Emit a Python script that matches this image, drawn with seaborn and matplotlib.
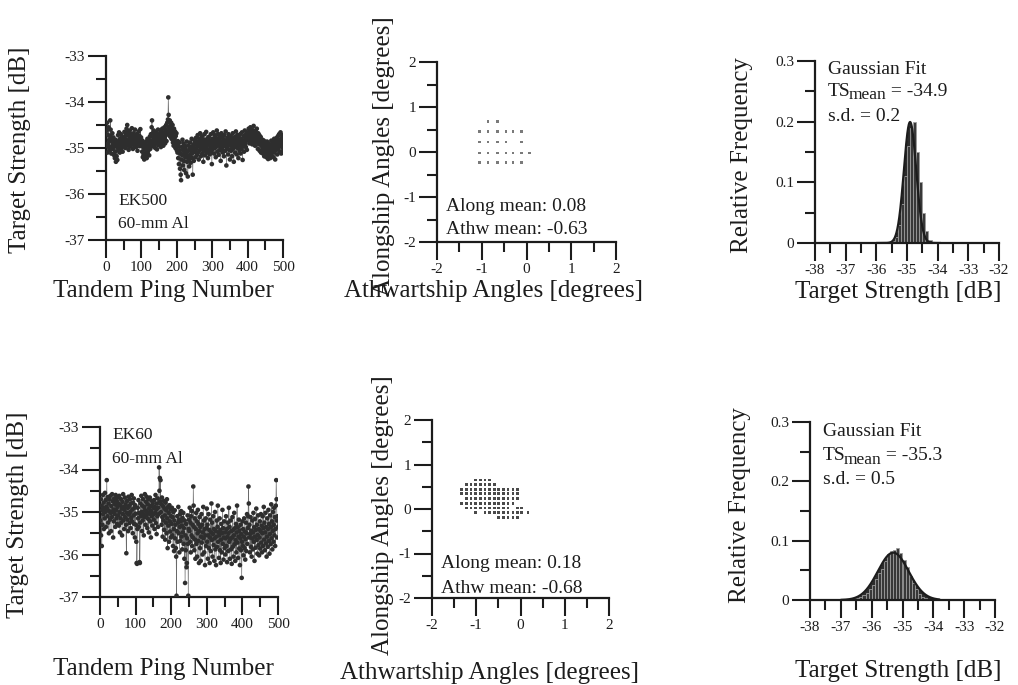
import numpy as np
import pandas as pd
import matplotlib
matplotlib.use("Agg")
import matplotlib.pyplot as plt
from matplotlib.ticker import MultipleLocator, FuncFormatter
import seaborn as sns

# ---------------------------------------------------------------- data
# Tandem target strength per ping [dB], 60-mm aluminium sphere
ek500_ts = [
    -34.95, -34.62, -34.45, -35.10, -34.71, -34.90, -34.55, -34.98, -34.83, -35.05,
    -34.74, -34.40, -34.60, -34.97, -35.12, -34.79, -34.86, -34.68, -35.02, -34.91,
    -34.77, -35.15, -34.84, -34.96, -35.22, -35.08, -34.82, -35.30, -34.93, -35.18,
    -34.87, -35.26, -34.99, -34.72, -35.05, -34.85, -34.66, -34.94, -35.10, -34.80,
    -34.90, -34.70, -35.02, -34.86, -34.95, -34.75, -35.08, -34.83, -34.97, -34.78,
    -34.88, -34.65, -34.92, -34.80, -35.00, -34.72, -34.86, -34.58, -34.95, -34.50,
    -34.90, -34.66, -34.83, -35.04, -34.74, -34.89, -34.62, -34.97, -34.80, -34.70,
    -34.93, -34.85, -34.57, -34.88, -34.76, -35.02, -34.82, -34.68, -34.94, -34.79,
    -34.87, -34.60, -34.91, -34.75, -34.98, -34.84, -34.70, -34.86, -35.06, -34.78,
    -34.92, -34.64, -34.85, -34.73, -34.96, -34.81, -34.59, -34.90, -34.77, -34.88,
    -34.95, -35.08, -34.84, -35.20, -34.98, -35.15, -34.90, -35.25, -35.02, -34.88,
    -35.18, -34.93, -35.10, -34.86, -35.22, -35.00, -34.80, -35.12, -34.95, -35.05,
    -34.82, -35.16, -34.90, -34.75, -35.02, -34.88, -34.70, -34.97, -34.55, -34.40,
    -34.85, -34.68, -34.92, -34.78, -34.62, -34.95, -34.83, -34.72, -35.00, -34.87,
    -34.66, -34.90, -34.79, -35.03, -34.74, -34.88, -34.60, -34.94, -34.81, -34.70,
    -34.92, -34.76, -34.85, -34.62, -34.98, -34.80, -34.70, -34.90, -34.58, -34.84,
    -34.73, -34.95, -34.66, -34.82, -34.55, -34.78, -34.90, -34.60, -34.72, -34.50,
    -34.85, -34.65, -34.45, -34.70, -34.38, -33.90, -34.28, -34.55, -34.62, -34.40,
    -34.75, -34.52, -34.68, -34.45, -34.80, -34.60, -34.72, -34.50, -34.88, -34.66,
    -34.95, -34.58, -34.78, -34.85, -34.64, -35.00, -34.74, -34.90, -34.68, -35.05,
    -34.92, -35.10, -34.85, -35.22, -34.96, -35.35, -35.05, -34.88, -35.45, -35.12,
    -35.58, -35.70, -35.25, -34.98, -35.15, -34.82, -35.38, -35.05, -34.90, -35.28,
    -35.48, -35.10, -34.95, -35.20, -35.02, -35.55, -35.15, -34.86, -35.30, -35.08,
    -35.62, -35.18, -34.95, -35.25, -35.40, -35.04, -34.88, -35.15, -35.32, -34.98,
    -35.12, -34.80, -35.22, -35.05, -35.58, -35.10, -34.92, -35.28, -35.00, -34.84,
    -35.08, -34.90, -35.20, -34.78, -35.02, -34.86, -35.15, -34.95, -34.72, -35.10,
    -34.88, -35.25, -34.96, -34.80, -35.05, -34.68, -34.92, -35.18, -34.84, -35.00,
    -34.75, -35.12, -34.90, -34.98, -35.30, -34.82, -35.06, -34.70, -34.94, -35.16,
    -34.86, -35.02, -34.65, -34.96, -35.10, -34.80, -34.92, -35.22, -34.88, -34.76,
    -35.04, -34.90, -35.14, -34.84, -34.98, -34.70, -35.08, -34.93, -35.35, -34.86,
    -34.80, -35.02, -34.66, -34.94, -35.12, -34.85, -34.72, -35.00, -34.88, -35.20,
    -34.78, -34.96, -34.62, -34.90, -35.08, -34.84, -34.70, -35.15, -34.92, -34.80,
    -35.05, -34.74, -34.98, -35.28, -34.86, -34.68, -35.02, -34.90, -34.76, -35.10,
    -34.94, -34.82, -35.18, -34.72, -34.96, -34.88, -35.06, -34.64, -34.92, -35.38,
    -34.84, -35.00, -34.78, -34.95, -35.14, -34.70, -34.88, -35.04, -34.82, -35.25,
    -34.90, -34.74, -35.06, -34.86, -34.96, -35.18, -34.80, -34.68, -35.02, -34.92,
    -35.30, -34.84, -34.98, -34.76, -35.10, -34.88, -34.64, -34.95, -35.14, -34.82,
    -34.72, -35.00, -34.90, -35.22, -34.86, -34.78, -35.06, -34.94, -34.70, -35.12,
    -34.88, -34.80, -35.02, -34.66, -34.92, -35.26, -34.84, -34.96, -34.74, -35.08,
    -34.86, -34.62, -34.90, -34.78, -34.98, -34.70, -34.84, -35.04, -34.68, -34.80,
    -34.66, -34.82, -34.58, -34.76, -34.90, -34.62, -34.72, -34.55, -34.84, -34.68,
    -34.78, -34.60, -34.92, -34.74, -34.64, -34.86, -34.52, -34.70, -34.80, -34.66,
    -34.95, -34.74, -34.62, -34.88, -34.70, -34.58, -34.82, -34.76, -35.02, -34.68,
    -34.84, -34.92, -34.72, -35.06, -34.80, -34.90, -34.76, -35.10, -34.86, -34.96,
    -35.04, -34.82, -35.12, -34.90, -35.00, -34.84, -35.18, -34.94, -35.06, -34.88,
    -35.10, -34.92, -35.20, -35.02, -34.86, -35.14, -34.96, -35.24, -35.04, -34.90,
    -35.16, -34.98, -35.08, -35.22, -34.94, -35.12, -34.84, -35.02, -35.18, -34.96,
    -35.06, -34.88, -35.20, -35.00, -34.80, -35.10, -34.92, -35.25, -34.98, -34.84,
    -35.04, -34.78, -34.95, -35.14, -34.88, -34.74, -35.02, -34.85, -34.70, -34.96,
    -35.08, -34.82, -34.66, -34.92, -35.12, -34.80, -34.72, -34.98, -34.86, -35.06,
]

ek60_ts = [
    -35.20, -34.70, -35.55, -34.85, -35.80, -34.95, -35.30, -34.60, -35.05, -34.78,
    -35.40, -34.90, -35.15, -34.55, -35.00, -34.72, -35.35, -34.88, -34.25, -34.92,
    -35.10, -34.65, -35.25, -34.80, -35.50, -34.98, -34.70, -35.18, -34.62, -35.02,
    -35.45, -34.86, -35.12, -34.58, -35.00, -34.75, -35.60, -34.94, -35.22, -34.68,
    -35.05, -34.82, -35.35, -34.60, -34.96, -35.15, -34.74, -35.28, -34.88, -34.66,
    -35.08, -34.80, -35.32, -34.62, -35.00, -35.48, -34.84, -35.15, -34.70, -35.25,
    -34.92, -35.55, -34.76, -35.05, -34.58, -35.20, -34.88, -35.40, -34.95, -34.66,
    -35.12, -34.82, -35.30, -35.97, -35.02, -34.74, -35.18, -34.90, -35.45, -34.64,
    -35.06, -34.86, -35.26, -34.70, -35.00, -35.38, -34.80, -35.14, -34.60, -35.22,
    -34.94, -35.50, -34.78, -35.08, -34.68, -35.28, -34.90, -35.60, -34.84, -35.04,
    -35.30, -35.70, -36.20, -36.22, -35.40, -34.90, -35.15, -34.72, -35.35, -35.02,
    -36.18, -36.20, -35.25, -34.80, -35.10, -34.62, -35.00, -35.45, -34.85, -35.20,
    -34.70, -35.05, -35.55, -34.88, -35.12, -34.58, -34.96, -35.30, -34.76, -35.08,
    -34.64, -35.00, -35.38, -34.82, -35.16, -34.70, -35.48, -34.92, -35.04, -34.66,
    -35.22, -34.86, -35.60, -34.98, -35.10, -34.74, -35.32, -34.80, -35.06, -34.90,
    -35.18, -34.72, -35.40, -34.88, -35.02, -34.60, -35.26, -34.94, -35.52, -34.80,
    -35.10, -34.68, -35.35, -34.90, -35.05, -33.95, -34.50, -34.20, -34.75, -34.25,
    -35.00, -34.82, -35.30, -34.66, -35.12, -35.58, -34.86, -35.20, -34.74, -35.42,
    -34.92, -35.08, -35.65, -34.78, -35.25, -34.96, -35.50, -34.70, -35.15, -35.85,
    -34.88, -35.32, -35.02, -35.70, -34.84, -35.22, -35.46, -34.94, -35.60, -35.10,
    -35.28, -34.90, -35.55, -35.12, -35.80, -35.00, -35.40, -35.92, -35.20, -34.96,
    -35.62, -35.30, -35.85, -36.05, -36.97, -35.45, -35.10, -35.70, -35.25, -34.88,
    -35.50, -35.18, -35.95, -35.35, -35.05, -35.68, -35.22, -34.98, -35.58, -35.32,
    -35.88, -35.14, -35.48, -35.02, -35.75, -35.38, -36.10, -35.20, -36.67, -35.55,
    -35.90, -35.28, -36.30, -36.20, -35.62, -35.08, -35.75, -36.97, -35.40, -35.18,
    -35.45, -34.90, -35.70, -35.25, -35.95, -35.10, -35.55, -34.98, -35.80, -35.30,
    -35.60, -34.40, -34.85, -35.35, -35.90, -35.15, -35.65, -36.10, -35.40, -35.02,
    -35.75, -35.22, -36.05, -35.50, -34.95, -35.68, -35.28, -36.20, -35.45, -35.12,
    -35.85, -35.35, -36.15, -35.58, -35.05, -35.72, -35.30, -36.00, -35.48, -34.88,
    -35.62, -35.20, -35.95, -35.40, -36.25, -35.55, -35.15, -35.80, -35.38, -34.92,
    -35.70, -35.30, -36.10, -35.55, -35.05, -35.85, -35.42, -36.20, -35.60, -35.18,
    -35.92, -35.48, -34.80, -35.66, -35.25, -36.05, -35.52, -35.10, -35.78, -35.40,
    -36.15, -35.62, -35.00, -35.88, -35.45, -36.25, -35.58, -35.20, -35.82, -35.35,
    -34.85, -35.70, -35.48, -36.08, -35.55, -35.15, -35.90, -35.42, -36.20, -35.65,
    -35.28, -35.95, -35.50, -34.95, -35.75, -35.38, -36.12, -35.60, -35.22, -35.85,
    -35.48, -36.00, -35.62, -35.10, -35.80, -35.40, -36.18, -35.58, -35.25, -35.92,
    -35.50, -34.90, -35.70, -35.35, -36.10, -35.64, -35.20, -35.88, -35.45, -36.22,
    -35.60, -35.12, -35.82, -35.42, -36.05, -35.55, -35.02, -35.76, -35.38, -36.15,
    -35.66, -35.28, -35.95, -35.48, -34.85, -35.72, -35.36, -36.08, -35.58, -35.18,
    -35.86, -35.44, -36.25, -35.62, -35.30, -35.90, -35.52, -36.55, -35.70, -35.22,
    -35.80, -35.40, -36.02, -35.58, -35.15, -35.85, -35.46, -36.12, -35.64, -35.25,
    -35.92, -35.50, -35.05, -35.75, -35.38, -35.10, -34.40, -34.80, -35.60, -35.30,
    -35.95, -35.52, -35.12, -35.82, -35.44, -36.05, -35.62, -35.20, -35.88, -35.48,
    -35.02, -35.70, -35.36, -36.15, -35.58, -35.16, -35.84, -35.42, -34.92, -35.66,
    -35.30, -35.98, -35.54, -35.08, -35.78, -35.40, -36.02, -35.60, -35.22, -35.86,
    -35.45, -35.05, -35.72, -35.32, -35.95, -35.50, -35.10, -35.80, -35.38, -34.88,
    -35.65, -35.25, -35.90, -35.48, -35.02, -35.74, -35.35, -36.05, -35.58, -35.15,
    -35.82, -35.40, -34.95, -35.68, -35.28, -35.98, -35.52, -35.08, -35.76, -35.36,
    -34.82, -35.62, -35.22, -35.88, -35.45, -35.00, -35.70, -35.30, -34.90, -35.55,
    -35.12, -35.80, -35.40, -34.85, -34.25, -34.70, -35.20, -35.60, -35.10, -35.35,
]

# Split-beam angle positions [degrees]: alongship level -> athwartship values
ek500_angles = {
    0.68: [-0.86, -0.64],
    0.45: [-1.05, -0.86, -0.64, -0.46, -0.30, -0.12],
    0.22: [-1.05, -0.86, -0.64, -0.46, -0.12],
    -0.02: [-1.05, -0.86, -0.64, -0.46, -0.30, -0.12, 0.07],
    -0.24: [-1.05, -0.86, -0.64, -0.46, -0.30, -0.12],
}
ek60_athw_levels = [-1.33, -1.22, -1.12, -1.01, -0.91, -0.80, -0.70, -0.59,
                    -0.49, -0.38, -0.28, -0.17, -0.07, 0.03, 0.17]
ek60_angles = {  # alongship level -> occupied athwartship level indices
    0.65: [3, 4, 5, 6],
    0.55: [1, 2, 3, 4, 5, 6, 7],
    0.44: list(range(0, 13)),
    0.34: list(range(0, 13)),
    0.23: list(range(1, 13)),
    0.13: list(range(0, 12)),
    0.02: [1, 2, 3, 4, 5, 6, 7, 8, 9, 10, 12, 13],
    -0.08: [3, 5, 6, 7, 8, 9, 10, 11, 12, 13, 14],
    -0.19: [8, 9, 10, 11, 12],
}
along_mean = {"EK500": 0.08, "EK60": 0.18}
athw_mean = {"EK500": -0.63, "EK60": -0.68}

# TS histograms: 0.1 dB bin centres and relative frequency
ek500_bins = [-35.45, -35.35, -35.25, -35.15, -35.05, -34.95, -34.85,
              -34.75, -34.65, -34.55, -34.45, -34.35, -34.25]
ek500_freq = [0.003, 0.010, 0.030, 0.065, 0.110, 0.160, 0.190,
              0.200, 0.150, 0.100, 0.050, 0.020, 0.005]
ek60_bins = [-36.55, -36.45, -36.35, -36.25, -36.15, -36.05, -35.95, -35.85,
             -35.75, -35.65, -35.55, -35.45, -35.35, -35.25, -35.15, -35.05,
             -34.95, -34.85, -34.75, -34.65, -34.55, -34.45, -34.35, -34.25]
ek60_freq = [0.002, 0.003, 0.005, 0.008, 0.012, 0.018, 0.025, 0.035,
             0.045, 0.052, 0.065, 0.078, 0.082, 0.085, 0.087, 0.080,
             0.068, 0.055, 0.040, 0.028, 0.018, 0.010, 0.005, 0.003]
fit_mean = {"EK500": -34.9, "EK60": -35.3}
fit_sd = {"EK500": 0.2, "EK60": 0.5}
fit_span = {"EK500": (-36.0, -33.9), "EK60": (-37.0, -33.8)}
bin_width = 0.1

# ---------------------------------------------------------------- style
INK = "#1c1c1c"
sns.set_style("ticks")
plt.rcParams.update({
    "font.family": ["Liberation Serif", "DejaVu Serif"],
    "axes.unicode_minus": False,
    "text.color": INK,
})

W, H = 1018, 685
fig = plt.figure(figsize=(W / 100, H / 100), dpi=100)
fig.patch.set_facecolor("white")


def add_axes(x0, y0, x1, y1):
    """Axes from pixel box (left, top, right, bottom)."""
    return fig.add_axes([x0 / W, 1 - y1 / H, (x1 - x0) / W, (y1 - y0) / H])


def fig_text(x, y, s, size, rotation=0):
    fig.text(x / W, 1 - y / H, s, ha="center", va="center",
             fontsize=size, rotation=rotation, color=INK)


def style(ax, xlim, ylim, xmaj, xmin, ymaj, ymin):
    ax.set_xlim(*xlim)
    ax.set_ylim(*ylim)
    sns.despine(ax=ax)
    for side in ("left", "bottom"):
        ax.spines[side].set_linewidth(1.6)
        ax.spines[side].set_color(INK)
    ax.xaxis.set_major_locator(MultipleLocator(xmaj))
    ax.xaxis.set_minor_locator(MultipleLocator(xmin))
    ax.yaxis.set_major_locator(MultipleLocator(ymaj))
    ax.yaxis.set_minor_locator(MultipleLocator(ymin))
    ax.tick_params(which="major", length=13, width=1.5, color=INK,
                   labelsize=11, labelcolor=INK, pad=2)
    ax.tick_params(which="minor", length=7, width=1.5, color=INK)
    ax.xaxis.set_major_formatter(FuncFormatter(lambda v, p: f"{v:g}"))
    ax.yaxis.set_major_formatter(FuncFormatter(lambda v, p: f"{v:g}"))
    ax.set_xlabel("")
    ax.set_ylabel("")
    ax.set_facecolor("none")
    ax.grid(False)


def ts_panel(ax, ts, tag, text_y):
    ping = np.arange(1, len(ts) + 1)
    ax.plot(ping, ts, color="#6a6a6a", lw=0.45, zorder=2)
    sns.scatterplot(x=ping, y=ts, ax=ax, s=11, color="#2e2e2e",
                    edgecolor="none", linewidth=0, zorder=3, legend=False)
    style(ax, (0, 500), (-37, -33), 100, 50, 1, 0.5)
    ax.text(0.07, text_y[0], tag, transform=ax.transAxes, fontsize=12.5,
            va="center", ha="left")
    ax.text(0.07, text_y[1], "60-mm Al", transform=ax.transAxes,
            fontsize=12.5, va="center", ha="left")


def angle_panel(ax, athw, along, key, size, color, text_y):
    sns.scatterplot(x=athw, y=along, ax=ax, marker="s", s=size, color=color,
                    edgecolor="none", linewidth=0, legend=False)
    style(ax, (-2, 2), (-2, 2), 1, 0.5, 1, 0.5)
    ax.text(0.05, text_y[0], f"Along mean: {along_mean[key]:.2f}",
            transform=ax.transAxes, fontsize=14, va="center", ha="left")
    ax.text(0.05, text_y[1], f"Athw mean: {athw_mean[key]:.2f}",
            transform=ax.transAxes, fontsize=14, va="center", ha="left")


def hist_panel(ax, centers, freq, key, text_y):
    edges = [c - bin_width / 2 for c in centers] + [centers[-1] + bin_width / 2]
    lo, hi = fit_span[key]
    xs = np.linspace(lo, hi, 400)
    mu, sd = fit_mean[key], fit_sd[key]
    ys = bin_width / (sd * np.sqrt(2 * np.pi)) * np.exp(-0.5 * ((xs - mu) / sd) ** 2)
    ax.fill_between(xs, ys, color="#2c2c2c", lw=0, zorder=1)
    hist_df = pd.DataFrame({"ts": centers, "freq": freq})
    sns.histplot(data=hist_df, x="ts", weights="freq", bins=edges, ax=ax,
                 stat="count", color="#383838", edgecolor="#9c9c9c",
                 linewidth=0.6, alpha=1.0, zorder=2)
    sns.lineplot(x=xs, y=ys, ax=ax, color=INK, lw=1.6, zorder=3)
    style(ax, (-38, -32), (0, 0.3), 1, 0.5, 0.1, 0.05)
    ax.text(0.07, text_y[0], "Gaussian Fit", transform=ax.transAxes,
            fontsize=14, va="center", ha="left")
    # "TS" with a full-size lowered "mean" subscript, then the value
    t_ts = ax.text(0.07, text_y[1], "TS", transform=ax.transAxes,
                   fontsize=14, va="baseline", ha="left")
    t_sub = ax.annotate("mean", xy=(1, 0), xycoords=t_ts,
                        xytext=(-1.5, -2.5), textcoords="offset points",
                        fontsize=12.5, va="bottom", ha="left")
    ax.annotate(f" = {mu:.1f}", xy=(1, 0), xycoords=t_sub,
                xytext=(0, 2.5), textcoords="offset points",
                fontsize=14, va="bottom", ha="left")
    ax.text(0.07, text_y[2], f"s.d. = {sd:.1f}", transform=ax.transAxes,
            fontsize=14, va="center", ha="left")


def expand(angle_rows, levels=None):
    athw, along = [], []
    for a, cols in angle_rows.items():
        for c in cols:
            athw.append(levels[c] if levels is not None else c)
            along.append(a)
    return athw, along


# ---------------------------------------------------------------- top row: EK500
ax = add_axes(106, 56, 283, 240)
ts_panel(ax, ek500_ts, "EK500", (0.21, 0.085))
fig_text(20, 150, "Target Strength [dB]", 18, rotation=90)
fig_text(163, 291, "Tandem Ping Number", 18)

ax = add_axes(437, 62, 616, 242)
athw, along = expand(ek500_angles)
angle_panel(ax, athw, along, "EK500", 4, "#7a7a7a", (0.195, 0.067))
fig_text(384, 156, "Alongship Angles [degrees]", 18, rotation=90)
fig_text(494, 291, "Athwartship Angles [degrees]", 18)

ax = add_axes(815, 61, 999, 243)
hist_panel(ax, ek500_bins, ek500_freq, "EK500", (0.955, 0.81, 0.695))
fig_text(742, 155, "Relative Frequency", 18, rotation=90)
fig_text(898, 292, "Target Strength [dB]", 18)

# ---------------------------------------------------------------- bottom row: EK60
ax = add_axes(100, 427, 278, 597)
ts_panel(ax, ek60_ts, "EK60", (0.953, 0.81))
fig_text(18, 515, "Target Strength [dB]", 18, rotation=90)
fig_text(163, 669, "Tandem Ping Number", 18)

ax = add_axes(432, 420, 609, 598)
athw, along = expand(ek60_angles, ek60_athw_levels)
angle_panel(ax, athw, along, "EK60", 4, "#4a4a4a", (0.195, 0.055))
fig_text(383, 515, "Alongship Angles [degrees]", 18, rotation=90)
fig_text(490, 673, "Athwartship Angles [degrees]", 18)

ax = add_axes(810, 422, 995, 600)
hist_panel(ax, ek60_bins, ek60_freq, "EK60", (0.945, 0.785, 0.675))
fig_text(740, 505, "Relative Frequency", 18, rotation=90)
fig_text(898, 671, "Target Strength [dB]", 18)

fig.savefig("out.png", dpi=100, facecolor="white")
